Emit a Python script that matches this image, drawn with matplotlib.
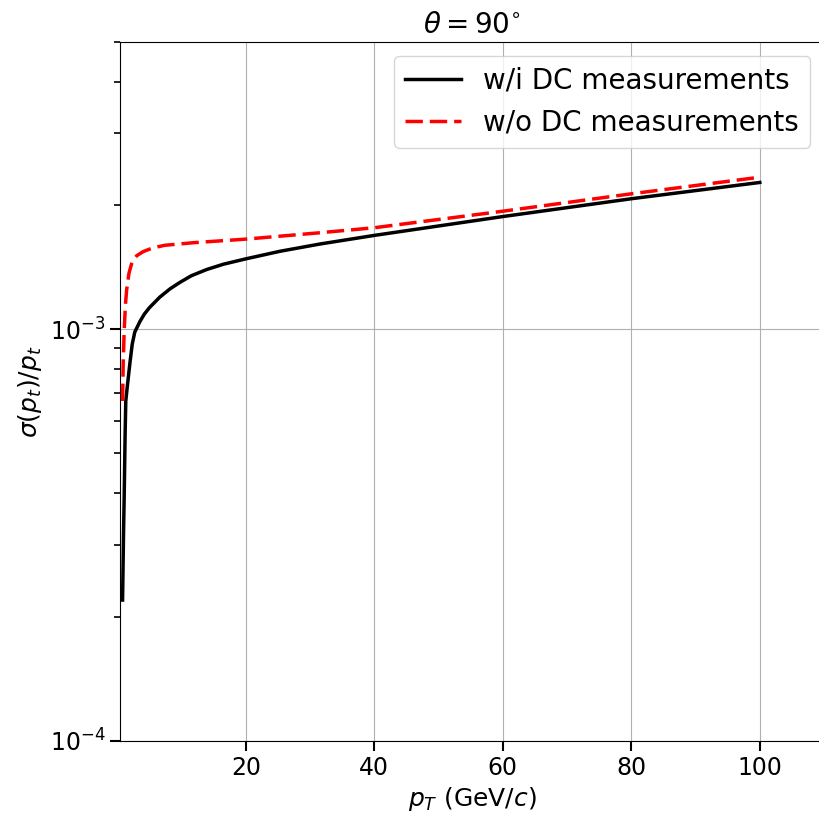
import numpy as np
import matplotlib
matplotlib.use('Agg')
import matplotlib.pyplot as plt

# Relative pT resolution at theta = 90 deg, with and without DC hits
pt_with_dc = [0.8, 0.95, 1.05, 1.2, 1.3, 1.55, 1.95, 2.3, 2.7, 3.5, 4.2, 5.0,
              6.6, 8.2, 9.7, 11.5, 13.9, 16.5, 20, 25.3, 31.5, 40, 60, 80, 100]
res_with_dc = [2.2e-4, 3.2e-4, 3.9e-4, 5.6e-4, 6.7e-4, 7.3e-4, 8.3e-4, 9.2e-4,
               9.85e-4, 1.045e-3, 1.09e-3, 1.13e-3, 1.198e-3, 1.255e-3,
               1.300e-3, 1.350e-3, 1.398e-3, 1.440e-3, 1.484e-3, 1.548e-3,
               1.612e-3, 1.692e-3, 1.880e-3, 2.077e-3, 2.275e-3]

pt_no_dc = [0.8, 0.9, 1.06, 1.25, 1.43, 1.8, 2.2, 2.46, 3.0, 4.0, 5.5, 7.4,
            12, 20, 31.5, 40, 60, 80, 100]
res_no_dc = [6.7e-4, 8.3e-4, 1.0e-3, 1.15e-3, 1.245e-3, 1.37e-3, 1.443e-3,
             1.473e-3, 1.51e-3, 1.545e-3, 1.578e-3, 1.601e-3, 1.625e-3,
             1.657e-3, 1.717e-3, 1.766e-3, 1.937e-3, 2.135e-3, 2.343e-3]

fig = plt.figure(figsize=(8.19, 8.18), dpi=100)
ax = fig.add_axes([120 / 819, 77 / 818, 704 / 819, 699.3 / 818])

ax.plot(pt_with_dc, res_with_dc, color='black', linewidth=2.5,
        solid_joinstyle='round', label='w/i DC measurements')
ax.plot(pt_no_dc, res_no_dc, color='red', linewidth=2.5, linestyle=(0, (5, 2)),
        label='w/o DC measurements')

ax.set_yscale('log')
ax.set_xlim(0.4, 110)
ax.set_ylim(1e-4, 5e-3)

ax.set_title(r'$\theta = 90^{\circ}$', fontsize=20)
ax.set_xlabel(r'$p_T$ (GeV/$c$)', fontsize=18)
ax.set_ylabel(r'$\sigma(p_t)/p_t$', fontsize=18)

ax.tick_params(axis='both', which='major', labelsize=17, length=7, width=1.5)
ax.tick_params(axis='both', which='minor', length=4.5, width=1.2)
ax.grid(True, which='major', color='#b0b0b0', linewidth=0.8)
ax.spines['right'].set_visible(False)

ax.legend(loc='upper right', fontsize=20)

fig.savefig('out.png', dpi=100)
